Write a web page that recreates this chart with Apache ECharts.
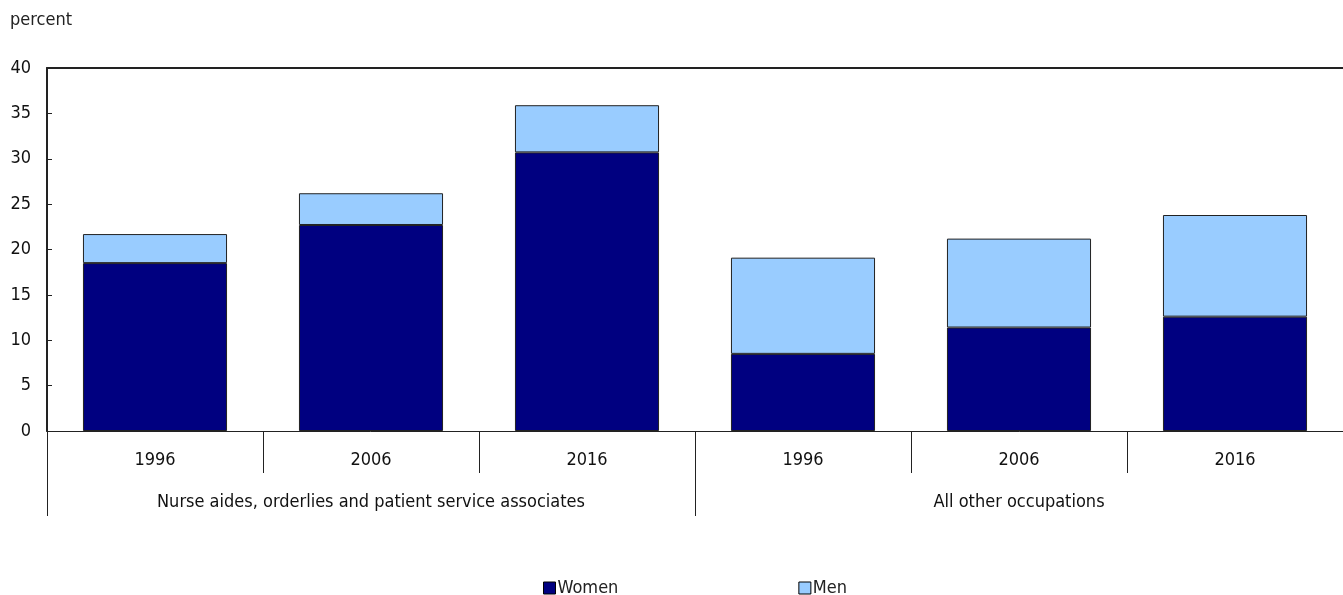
<!DOCTYPE html>
<html><head><meta charset="utf-8">
<script src="https://cdn.jsdelivr.net/npm/echarts@6/dist/echarts.min.js"></script>
<style>html,body{margin:0;padding:0;background:#fff}#c{width:1343px;height:595px}</style>
</head><body><div id="c"></div>
<script>
const years = ['1996','2006','2016','1996','2006','2016'];
const groups = ['Nurse aides, orderlies and patient service associates','All other occupations'];
const women = [18.5, 22.7, 30.7, 8.5, 11.4, 12.6];
const men = [3.2, 3.5, 5.2, 10.6, 9.8, 11.2];
const yTicks = [0, 5, 10, 15, 20, 25, 30, 35, 40];

const FONT = '"DejaVu Sans Condensed","Liberation Sans Narrow",Arial,sans-serif';
const chart = echarts.init(document.getElementById('c'), null, {renderer:'canvas'});
chart.setOption({
  animation:false,
  textStyle:{fontFamily:FONT},
  grid:{left:47,right:0,top:68,bottom:164},
  graphic:[{type:'text',left:10,top:11,style:{text:'percent',font:'18px '+FONT,fill:'#222'}}],
  legend:{top:579,left:543,padding:0,itemGap:180,itemWidth:12,itemHeight:12,icon:'rect',
    textStyle:{fontSize:18,fontFamily:FONT,color:'#222',padding:[0,0,0,-3]},
    data:[{name:'Women',itemStyle:{borderColor:'#000',borderWidth:1}},{name:'Men',itemStyle:{borderColor:'#000',borderWidth:1}}]},
  xAxis:[
    {type:'category',data:years,position:'bottom',
     axisLine:{show:true,lineStyle:{color:'#222',width:1}},
     axisTick:{show:true,interval:0,length:42,lineStyle:{color:'#222'}},
     axisLabel:{interval:0,margin:20,fontSize:18,color:'#111',fontFamily:FONT}},
    {type:'category',data:groups,position:'bottom',
     axisLine:{show:false},
     axisTick:{show:true,interval:0,length:85,lineStyle:{color:'#222'}},
     axisLabel:{interval:0,margin:62,fontSize:18,color:'#111',fontFamily:FONT}},
    {type:'category',data:years,position:'top',
     axisLine:{show:true,lineStyle:{color:'#222',width:2}},
     axisTick:{show:false},axisLabel:{show:false}}
  ],
  yAxis:{type:'value',min:0,max:40,interval:5,
    axisLine:{show:true,lineStyle:{color:'#222',width:2}},
    axisTick:{show:true,inside:true,length:5,lineStyle:{color:'#222'}},
    splitLine:{show:false},
    axisLabel:{margin:16,fontSize:18,color:'#111',fontFamily:FONT,
      formatter:v=>yTicks.includes(v)?String(v):''}},
  series:[
    {name:'Women',type:'bar',stack:'a',data:women,barWidth:'66.7%',
     itemStyle:{color:'#000080',borderColor:'#222',borderWidth:1}},
    {name:'Men',type:'bar',stack:'a',data:men,barWidth:'66.7%',
     itemStyle:{color:'#99CCFF',borderColor:'#222',borderWidth:1}}
  ]
});
</script></body></html>
